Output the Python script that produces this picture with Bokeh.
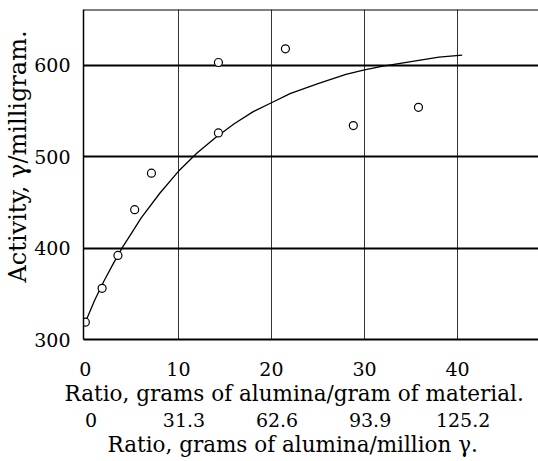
import math
from bokeh.plotting import figure
from bokeh.models import (Range1d, LinearAxis, FixedTicker, Span, Title,
                          NumeralTickFormatter)
from bokeh.embed import file_html
from bokeh.resources import INLINE

# measured points: ratio (g alumina / g material) vs activity (gamma/mg)
ratio = [0.0, 1.8, 3.5, 5.3, 7.1, 14.3, 14.3, 21.5, 28.8, 35.8]
activity = [319, 356, 392, 442, 482, 526, 603, 618, 534, 554]

# smooth curve drawn through the data
curve_x = [0, 1, 2, 3, 4, 5, 6, 8, 10, 12, 14, 16, 18, 20, 22, 25, 28, 30, 32, 35, 38, 40.5]
curve_y = [319, 343, 364, 383, 401, 417, 433, 460, 484, 504, 521, 536, 549, 559, 569, 580, 590, 595, 599, 604, 609, 611]

x_ticks = [0, 10, 20, 30, 40]
y_ticks = [300, 400, 500, 600]
second_ticks = [0, 31.3, 62.6, 93.9, 125.2]   # grams of alumina / million gamma

FONT = "DejaVu Serif"
X0, X1 = -0.2, 48.7
K = 3.13
SHIFT = 0.6

p = figure(width=538, height=461,
           x_range=Range1d(X0, X1), y_range=Range1d(300, 661),
           output_backend="svg", toolbar_location=None,
           min_border_left=83, min_border_right=0, min_border_top=9, min_border_bottom=122,
           outline_line_color=None)
p.xaxis.visible = False
p.yaxis.visible = False
p.extra_x_ranges = {"alum": Range1d((X0 - SHIFT) * K, (X1 - SHIFT) * K)}

# grid
p.xgrid.ticker = FixedTicker(ticks=[10, 20, 30, 40])
p.xgrid.grid_line_color = "#333333"
p.xgrid.grid_line_width = 1
p.ygrid.ticker = FixedTicker(ticks=[400, 500, 600])
p.ygrid.grid_line_color = "black"
p.ygrid.grid_line_width = 2

def style(ax, size="19px"):
    ax.major_tick_line_color = None
    ax.minor_tick_line_color = None
    ax.major_tick_out = 0
    ax.major_tick_in = 0
    ax.major_label_text_font = FONT
    ax.major_label_text_font_size = size
    ax.major_label_text_color = "black"

yax = LinearAxis(ticker=FixedTicker(ticks=y_ticks))
style(yax)
yax.axis_line_color = "black"
yax.axis_line_width = 1.5
yax.major_label_standoff = 13
p.add_layout(yax, "left")
p.add_layout(Title(text="Activity, \u03b3/milligram.", align="left", offset=57,
                   standoff=0, text_font=FONT, text_font_size="24px",
                   text_font_style="normal", text_color="black"), "left")

xax = LinearAxis(ticker=FixedTicker(ticks=x_ticks))
style(xax)
xax.axis_line_color = "black"
xax.axis_line_width = 2
xax.major_label_standoff = 22
p.add_layout(xax, "below")
p.add_layout(Title(text="Ratio, grams of alumina/gram of material.", align="left",
                   offset=-19, standoff=0, text_font=FONT, text_font_size="21.5px",
                   text_font_style="normal", text_color="black"), "below")

xax2 = LinearAxis(x_range_name="alum", ticker=FixedTicker(ticks=second_ticks),
                  formatter=NumeralTickFormatter(format="0.[0]"))
style(xax2)
xax2.axis_line_color = None
xax2.major_label_standoff = 7
p.add_layout(xax2, "below")
p.add_layout(Title(text="Ratio, grams of alumina/million \u03b3.", align="left",
                   offset=24, standoff=0, text_font=FONT, text_font_size="21.5px",
                   text_font_style="normal", text_color="black"), "below")

# top frame line
p.add_layout(Span(location=661, dimension="width", line_color="black", line_width=2))

p.line(curve_x, curve_y, line_color="black", line_width=1.3)
p.scatter(ratio, activity, marker="circle", size=8, fill_color="white",
          line_color="black", line_width=1.2)

open("out.html", "w").write(file_html(p, INLINE))
